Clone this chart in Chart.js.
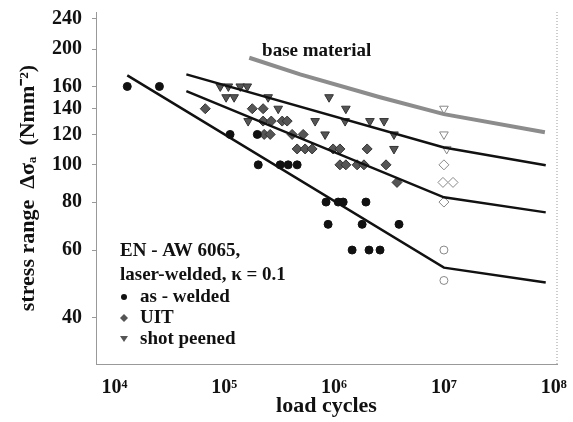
<!DOCTYPE html>
<html>
<head>
<meta charset="utf-8">
<script src="https://cdn.jsdelivr.net/npm/chart.js@4"></script>
<style>
  html, body { margin: 0; padding: 0; background: #fff; }
  #wrap { width: 573px; height: 422px; }
</style>
</head>
<body>
<div id="wrap"><canvas id="snChart" width="573" height="422"></canvas></div>
<script>
// S-N data, EN-AW 6065 laser-welded, R = 0.1

// axis ticks
const xTicks = [1e4, 1e5, 1e6, 1e7, 1e8];
const xTickLabels = ['10⁴', '10⁵', '10⁶', '10⁷', '10⁸'];
const yTicks = [40, 60, 80, 100, 120, 140, 160, 200, 240];

// as-welded (filled circles)
const awN = [1.31e4, 2.57e4, 1.13e5, 2.0e5, 2.04e5, 3.23e5, 3.82e5, 4.61e5, 8.45e5, 1.09e6, 1.21e6, 1.95e6, 8.82e5, 1.8e6, 3.9e6, 1.46e6, 2.08e6, 2.62e6];
const awS = [160, 160, 120, 120, 100, 100, 100, 100, 80, 80, 80, 80, 70, 70, 70, 60, 60, 60];
const awRunN = [1e7, 1e7];
const awRunS = [60, 50];

// UIT (diamonds)
const uitN = [6.72e4, 1.8e5, 2.26e5, 2.26e5, 2.68e5, 3.37e5, 3.74e5, 2.31e5, 2.62e5, 4.15e5, 5.23e5, 4.61e5, 5.45e5, 6.31e5, 9.8e5, 1.13e6, 2.0e6, 1.13e6, 1.28e6, 1.62e6, 1.87e6, 2.97e6, 3.74e6];
const uitS = [140, 140, 140, 130, 130, 130, 130, 120, 120, 120, 120, 110, 110, 110, 110, 110, 110, 100, 100, 100, 100, 100, 90];
const uitRunN = [1e7, 9.8e6, 1.21e7, 1e7];
const uitRunS = [100, 90, 90, 80];

// shot peened (inverted triangles)
const spN = [9.2e4, 1.09e5, 1.4e5, 1.62e5, 1.04e5, 1.23e5, 2.51e5, 9.0e5, 3.1e5, 1.28e6, 1.65e5, 6.72e5, 1.26e6, 2.12e6, 2.85e6, 8.28e5, 3.51e6, 3.51e6];
const spS = [160, 160, 160, 160, 150, 150, 150, 150, 140, 140, 130, 130, 130, 130, 130, 120, 120, 110];
const spRunN = [1e7, 1e7, 1.06e7];
const spRunS = [140, 120, 110];

// S-N curves
const awCurveN = [1.31e4, 1e7, 8.45e7];
const awCurveS = [171, 54, 49.4];
const uitCurveN = [4.52e4, 1e7, 8.45e7];
const uitCurveS = [155.6, 82.3, 75.2];
const spCurveN = [4.52e4, 1e7, 8.45e7];
const spCurveS = [172, 111, 99.8];
const baseCurveN = [1.69e5, 4.91e5, 2.62e6, 1e7, 8.3e7];
const baseCurveS = [190, 172, 150, 135.5, 121.6];

const pts = (xs, ys) => xs.map((x, i) => ({ x: x, y: ys[i] }));

const serif = "'Liberation Serif', 'Times New Roman', serif";

const filledCircle = { pointStyle: 'circle', pointRadius: 4, backgroundColor: '#111', borderColor: '#111', borderWidth: 1 };
const openCircle = { pointStyle: 'circle', pointRadius: 4, backgroundColor: '#fff', borderColor: '#888', borderWidth: 1 };
const filledDiamond = { pointStyle: 'rectRot', pointRadius: 5, backgroundColor: '#555', borderColor: '#333', borderWidth: 1 };
const openDiamond = { pointStyle: 'rectRot', pointRadius: 5, backgroundColor: '#fff', borderColor: '#888', borderWidth: 1 };
const filledTri = { pointStyle: 'triangle', rotation: 180, pointRadius: 5, backgroundColor: '#555', borderColor: '#333', borderWidth: 1 };
const openTri = { pointStyle: 'triangle', rotation: 180, pointRadius: 5, backgroundColor: '#fff', borderColor: '#888', borderWidth: 1 };

function curve(xs, ys, color, width) {
  return { type: 'line', data: pts(xs, ys), borderColor: color, borderWidth: width, pointRadius: 0, fill: false, tension: 0 };
}

// extra text, legend and right frame line
const annotations = {
  id: 'annotations',
  afterDraw(chart) {
    const { ctx, chartArea, scales } = chart;
    ctx.save();

    // right dotted frame
    ctx.strokeStyle = '#999';
    ctx.lineWidth = 1;
    ctx.setLineDash([1, 2]);
    ctx.beginPath();
    ctx.moveTo(chartArea.right, chartArea.top);
    ctx.lineTo(chartArea.right, chartArea.bottom);
    ctx.stroke();
    ctx.setLineDash([]);

    ctx.fillStyle = '#111';
    ctx.textBaseline = 'middle';
    ctx.textAlign = 'left';
    ctx.font = 'bold 19px ' + serif;
    ctx.fillText('base material', scales.x.getPixelForValue(2.21e5), scales.y.getPixelForValue(198));

    // legend block
    const lx = chartArea.left + 24;
    ctx.fillText('EN - AW 6065,', lx, 251);
    ctx.fillText('laser-welded, κ = 0.1', lx, 275);
    ctx.fillText('as - welded', lx + 20, 297);
    ctx.fillText('UIT', lx + 20, 318);
    ctx.fillText('shot peened', lx + 20, 339);

    const mx = lx + 4;
    ctx.fillStyle = '#111';
    ctx.beginPath();
    ctx.arc(mx, 297, 3, 0, Math.PI * 2);
    ctx.fill();

    ctx.fillStyle = '#555';
    ctx.beginPath();
    ctx.moveTo(mx, 314); ctx.lineTo(mx + 4, 318); ctx.lineTo(mx, 322); ctx.lineTo(mx - 4, 318);
    ctx.closePath();
    ctx.fill();

    ctx.beginPath();
    ctx.moveTo(mx - 4, 336); ctx.lineTo(mx + 4, 336); ctx.lineTo(mx, 342);
    ctx.closePath();
    ctx.fill();

    ctx.restore();
  }
};

new Chart(document.getElementById('snChart'), {
  type: 'scatter',
  data: {
    datasets: [
      curve(baseCurveN, baseCurveS, '#8c8c8c', 4),
      curve(spCurveN, spCurveS, '#111', 2.5),
      curve(uitCurveN, uitCurveS, '#111', 2.5),
      curve(awCurveN, awCurveS, '#111', 2.5),
      Object.assign({ data: pts(awN, awS) }, filledCircle),
      Object.assign({ data: pts(awRunN, awRunS) }, openCircle),
      Object.assign({ data: pts(uitN, uitS) }, filledDiamond),
      Object.assign({ data: pts(uitRunN, uitRunS) }, openDiamond),
      Object.assign({ data: pts(spN, spS) }, filledTri),
      Object.assign({ data: pts(spRunN, spRunS) }, openTri)
    ]
  },
  options: {
    responsive: false,
    animation: false,
    layout: { padding: { top: 12, right: 16, bottom: 0, left: 0 } },
    plugins: { legend: { display: false }, tooltip: { enabled: false } },
    scales: {
      x: {
        type: 'logarithmic',
        min: 6800,
        max: 1.07e8,
        afterBuildTicks: s => { s.ticks = xTicks.map(v => ({ value: v })); },
        afterFit: s => { s.height = 58; s.paddingLeft = 0; s.paddingRight = 0; },
        ticks: {
          autoSkip: false,
          maxRotation: 0,
          padding: 12,
          color: '#111',
          font: { family: serif, size: 20, weight: 'bold' },
          callback: (v) => xTickLabels[xTicks.indexOf(v)]
        },
        grid: { drawOnChartArea: false, drawTicks: false },
        border: { display: true, color: '#999', dash: [1, 2], width: 1 },
        title: {
          display: true,
          text: 'load cycles',
          color: '#111',
          padding: { top: 0, bottom: 2 },
          font: { family: serif, size: 22, weight: 'bold' }
        }
      },
      y: {
        type: 'logarithmic',
        min: 30.3,
        max: 250,
        afterBuildTicks: s => { s.ticks = yTicks.map(v => ({ value: v })); },
        afterFit: s => { s.width = 96; s.paddingTop = 0; s.paddingBottom = 0; },
        ticks: {
          autoSkip: false,
          padding: 10,
          color: '#111',
          font: { family: serif, size: 20, weight: 'bold' },
          callback: (v) => String(v)
        },
        grid: { drawOnChartArea: false, drawTicks: true, tickLength: 4, color: '#999' },
        border: { display: true, color: '#999', dash: [1, 2], width: 1 },
        title: {
          display: true,
          text: 'stress range  Δσₐ  (Nmm⁻²)',
          color: '#111',
          padding: { top: 15, bottom: 0 },
          font: { family: serif, size: 22, weight: 'bold' }
        }
      }
    }
  },
  plugins: [annotations]
});
</script>
</body>
</html>
